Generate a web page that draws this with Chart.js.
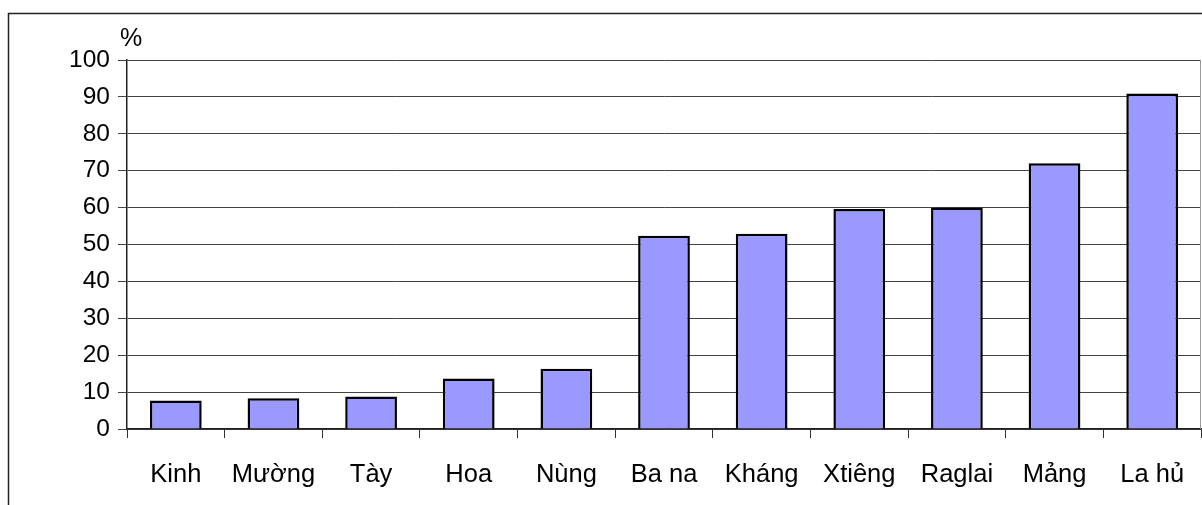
<!DOCTYPE html>
<html>
<head>
<meta charset="utf-8">
<style>
  html, body { margin: 0; padding: 0; background: #fff; }
  #wrap { position: relative; width: 1202px; height: 505px; }
</style>
<script src="https://cdn.jsdelivr.net/npm/chart.js@4.4.1/dist/chart.umd.min.js"></script>
</head>
<body>
<div id="wrap"><canvas id="c" width="1202" height="505"></canvas></div>
<script>
// Ethnic groups and their shares (%)
const categories = ['Kinh', 'Mường', 'Tày', 'Hoa', 'Nùng', 'Ba na', 'Kháng', 'Xtiêng', 'Raglai', 'Mảng', 'La hủ'];
const shares = [7.7, 8.3, 8.8, 13.7, 16.3, 52.4, 52.9, 59.6, 60.0, 72.0, 90.9];
const yTicks = [0, 10, 20, 30, 40, 50, 60, 70, 80, 90, 100];
const unitLabel = '%';

const FONT = '"Liberation Sans", Arial, sans-serif';

// Frame around the chart plus the unit label above the value axis
const framePlugin = {
  id: 'frame',
  beforeDraw(chart) {
    const ctx = chart.ctx;
    ctx.save();
    ctx.fillStyle = '#fff';
    ctx.fillRect(0, 0, chart.width, chart.height);
    ctx.strokeStyle = '#222';
    ctx.lineWidth = 1.5;
    ctx.beginPath();
    ctx.moveTo(8.5, chart.height);
    ctx.lineTo(8.5, 13.5);
    ctx.lineTo(chart.width, 13.5);
    ctx.stroke();
    ctx.restore();
  },
  afterDraw(chart) {
    const ctx = chart.ctx;
    const area = chart.chartArea;
    ctx.save();
    ctx.strokeStyle = '#999';
    ctx.lineWidth = 1;
    ctx.beginPath();
    ctx.moveTo(area.right - 0.5, area.top);
    ctx.lineTo(area.right - 0.5, area.bottom);
    ctx.stroke();
    ctx.fillStyle = '#000';
    ctx.font = '25px ' + FONT;
    ctx.textAlign = 'center';
    ctx.textBaseline = 'middle';
    ctx.fillText(unitLabel, 131, 39);
    ctx.restore();
  }
};

new Chart(document.getElementById('c'), {
  type: 'bar',
  data: {
    labels: categories,
    datasets: [{
      data: shares,
      backgroundColor: '#9999FF',
      borderColor: '#000',
      borderWidth: 2.5,
      categoryPercentage: 1,
      barPercentage: 0.53
    }]
  },
  options: {
    responsive: false,
    animation: false,
    events: [],
    layout: { padding: { top: 60, right: 1, left: 0, bottom: 0 } },
    plugins: { legend: { display: false }, tooltip: { enabled: false } },
    scales: {
      x: {
        afterFit(scale) {
          scale.height = 76;
          scale.paddingLeft = 0;
          scale.paddingRight = 0;
        },
        grid: {
          offset: true,
          drawOnChartArea: false,
          drawTicks: true,
          tickLength: 9,
          color: '#333'
        },
        border: { display: true, color: '#222', width: 1.5 },
        ticks: {
          color: '#000',
          font: { family: FONT, size: 25.5 },
          padding: 22,
          maxRotation: 0,
          autoSkip: false
        }
      },
      y: {
        min: 0,
        max: 100,
        afterFit(scale) { scale.width = 127; },
        afterBuildTicks(scale) { scale.ticks = yTicks.map(v => ({ value: v })); },
        grid: {
          color: '#444',
          lineWidth: 1,
          drawTicks: true,
          tickLength: 9
        },
        border: { display: true, color: '#222', width: 1.5 },
        ticks: {
          color: '#000',
          font: { family: FONT, size: 24.5 },
          padding: 8
        }
      }
    }
  },
  plugins: [framePlugin]
});
</script>
</body>
</html>
